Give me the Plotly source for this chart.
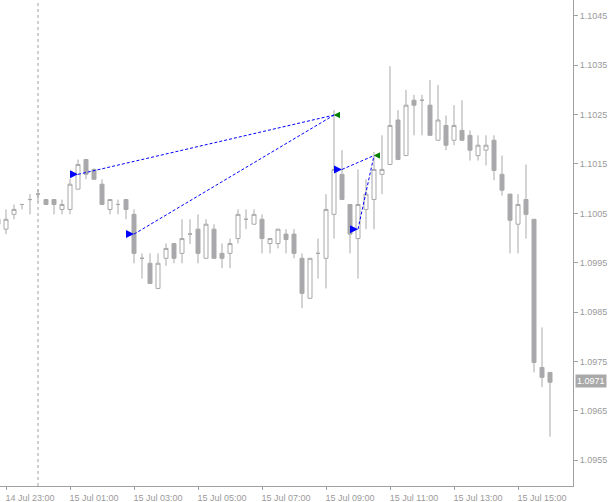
import pandas as pd
import plotly.graph_objects as go

# ---- data (EURUSD M15) ----
times = pd.date_range("2016-07-14 22:45", periods=70, freq="15min")

open_ = [1.10038, 1.10018, 1.10048, 1.10068, 1.10078, 1.10089, 1.10078, 1.10078, 1.10058, 1.10058,
         1.10099, 1.10159, 1.10139, 1.10109, 1.10058, 1.10068, 1.10078, 1.10048, 1.09959, 1.09949,
         1.09898, 1.09959, 1.09989, 1.09969, 1.10008, 1.10018, 1.09959, 1.10018, 1.09969, 1.09969,
         1.09999, 1.10038, 1.10028, 1.10038, 1.09989, 1.09989, 1.10008, 1.10008, 1.09959, 1.09878,
         1.09969, 1.09959, 1.10048, 1.10129, 1.10068, 1.09999, 1.10058, 1.10078, 1.10129, 1.10149,
         1.10239, 1.10167, 1.10279, 1.10279, 1.10269, 1.10198, 1.10228, 1.10198, 1.10218, 1.10208,
         1.10167, 1.10178, 1.10198, 1.10129, 1.10089, 1.10028, 1.10078, 1.10038, 1.09738, 1.09728]
high = [1.10038, 1.10058, 1.10068, 1.10068, 1.10089, 1.10099, 1.10078, 1.10078, 1.10078, 1.10119,
        1.10159, 1.10159, 1.10141, 1.10119, 1.10078, 1.10078, 1.10078, 1.10058, 1.09969, 1.09969,
        1.09969, 1.09989, 1.09989, 1.10038, 1.10038, 1.10048, 1.10038, 1.10028, 1.09989, 1.09999,
        1.10058, 1.10058, 1.10058, 1.10048, 1.09999, 1.10018, 1.10018, 1.10018, 1.09969, 1.09959,
        1.09999, 1.10089, 1.10259, 1.10178, 1.10068, 1.10139, 1.10119, 1.10174, 1.10208, 1.10348,
        1.10259, 1.10300, 1.10290, 1.10290, 1.10320, 1.10310, 1.10248, 1.10269, 1.10279, 1.10218,
        1.10208, 1.10208, 1.10208, 1.10167, 1.10089, 1.10089, 1.10149, 1.10038, 1.09819, 1.09728]
low = [1.10018, 1.10008, 1.10038, 1.10058, 1.10048, 1.10073, 1.10068, 1.10048, 1.10048, 1.10048,
       1.10099, 1.10119, 1.10119, 1.10068, 1.10048, 1.10048, 1.10038, 1.09949, 1.09918, 1.09908,
       1.09898, 1.09944, 1.09949, 1.09949, 1.09988, 1.09949, 1.09959, 1.09959, 1.09939, 1.09939,
       1.09989, 1.10018, 1.10028, 1.09969, 1.09969, 1.09979, 1.09969, 1.09959, 1.09858, 1.09878,
       1.09918, 1.09898, 1.09999, 1.10078, 1.09969, 1.09918, 1.10018, 1.10018, 1.10089, 1.10149,
       1.10159, 1.10167, 1.10208, 1.10208, 1.10208, 1.10198, 1.10178, 1.10188, 1.10198, 1.10157,
       1.10157, 1.10147, 1.10117, 1.10086, 1.09969, 1.09969, 1.09999, 1.09728, 1.09698, 1.09598]
close = [1.10028, 1.10038, 1.10058, 1.10068, 1.10078, 1.10089, 1.10068, 1.10068, 1.10068, 1.10109,
         1.10149, 1.10129, 1.10119, 1.10068, 1.10078, 1.10068, 1.10058, 1.09969, 1.09959, 1.09908,
         1.09949, 1.09979, 1.09959, 1.09999, 1.10008, 1.09969, 1.10028, 1.09959, 1.09959, 1.09989,
         1.10048, 1.10038, 1.10048, 1.09999, 1.09999, 1.10018, 1.09997, 1.09969, 1.09888, 1.09959,
         1.09969, 1.10058, 1.10139, 1.10078, 1.10008, 1.10068, 1.10089, 1.10139, 1.10139, 1.10228,
         1.10159, 1.10269, 1.10269, 1.10279, 1.10208, 1.10239, 1.10188, 1.10228, 1.10198, 1.10178,
         1.10188, 1.10188, 1.10137, 1.10097, 1.10036, 1.10068, 1.10048, 1.09748, 1.09718, 1.09708]

# trades (open -> close)
open_times = ["2016-07-15 01:15", "2016-07-15 03:00", "2016-07-15 09:30", "2016-07-15 10:00"]
open_prices = [1.10129, 1.10008, 1.10139, 1.10018]
close_times = ["2016-07-15 09:15", "2016-07-15 09:15", "2016-07-15 10:30", "2016-07-15 10:30"]
close_prices = [1.10249, 1.10249, 1.10167, 1.10167]

tick_times = ["2016-07-14 23:00", "2016-07-15 01:00", "2016-07-15 03:00", "2016-07-15 05:00",
              "2016-07-15 07:00", "2016-07-15 09:00", "2016-07-15 11:00", "2016-07-15 13:00",
              "2016-07-15 15:00"]
tick_labels = ["14 Jul 23:00", "15 Jul 01:00", "15 Jul 03:00", "15 Jul 05:00", "15 Jul 07:00",
               "15 Jul 09:00", "15 Jul 11:00", "15 Jul 13:00", "15 Jul 15:00"]
price_ticks = [1.0955, 1.0965, 1.0975, 1.0985, 1.0995, 1.1005, 1.1015, 1.1025, 1.1035, 1.1045]
price_labels = ["1.0955", "1.0965", "1.0975", "1.0985", "1.0995", "1.1005", "1.1015", "1.1025",
                "1.1035", "1.1045"]
day_separator = "2016-07-15 00:00"
last_price = 1.0971
last_label = "1.0971"

CANDLE = "#A9A9AB"
AXIS = "#A0A0A0"
TEXT = "#9A9A9A"
FONT = "Liberation Sans"

fig = go.Figure()
fig.add_trace(go.Candlestick(
    x=times, open=open_, high=high, low=low, close=close,
    increasing=dict(line=dict(color=CANDLE, width=1), fillcolor="white"),
    decreasing=dict(line=dict(color=CANDLE, width=1), fillcolor=CANDLE),
    whiskerwidth=0, hoverinfo="skip", showlegend=False))

for i in range(len(open_times)):
    fig.add_trace(go.Scatter(
        x=[open_times[i], close_times[i]], y=[open_prices[i], close_prices[i]],
        mode="lines", line=dict(color="#0000FF", width=1, dash="3px,2px"),
        hoverinfo="skip", showlegend=False))

fig.add_trace(go.Scatter(
    x=open_times, y=open_prices, mode="markers",
    marker=dict(symbol="arrow-right", size=8, color="#0000FF", line=dict(width=0)),
    hoverinfo="skip", showlegend=False))
fig.add_trace(go.Scatter(
    x=close_times, y=close_prices, mode="markers",
    marker=dict(symbol="arrow-left", size=6, color="#008000", line=dict(width=0)),
    hoverinfo="skip", showlegend=False))

fig.add_shape(type="line", xref="x", yref="paper", x0=day_separator, x1=day_separator,
              y0=0, y1=1, line=dict(color=AXIS, width=1, dash="3px,3px"))

fig.add_annotation(xref="paper", yref="y", x=1, y=last_price, text=last_label,
                   xanchor="left", yanchor="middle", xshift=2, showarrow=False,
                   bgcolor="#A9A9A9", borderpad=1,
                   font=dict(family=FONT, size=9, color="white"))

fig.update_layout(
    width=612, height=502,
    margin=dict(l=0, r=39, t=0, b=16),
    paper_bgcolor="white", plot_bgcolor="white",
    boxgap=0.5, boxgroupgap=0,
    showlegend=False,
    xaxis=dict(type="date", range=["2016-07-14 22:48:45", "2016-07-15 16:43:07.5"],
               rangeslider=dict(visible=False),
               tickmode="array", tickvals=tick_times, ticktext=tick_labels,
               ticks="outside", ticklen=3, tickcolor=AXIS, tickwidth=1,
               showline=True, linecolor=AXIS, linewidth=1,
               showgrid=False, zeroline=False,
               tickfont=dict(family=FONT, size=9, color=TEXT),
               ticklabelshift=24),
    yaxis=dict(side="right", range=[1.09498, 1.10482],
               tickmode="array", tickvals=price_ticks, ticktext=price_labels,
               ticks="outside", ticklen=4, tickcolor=AXIS, tickwidth=1,
               showline=True, linecolor=AXIS, linewidth=1,
               showgrid=False, zeroline=False,
               tickfont=dict(family=FONT, size=9, color=TEXT)),
)

fig.write_html("out.html", config={"displayModeBar": False},
               post_script="document.body.style.margin='0px';")
